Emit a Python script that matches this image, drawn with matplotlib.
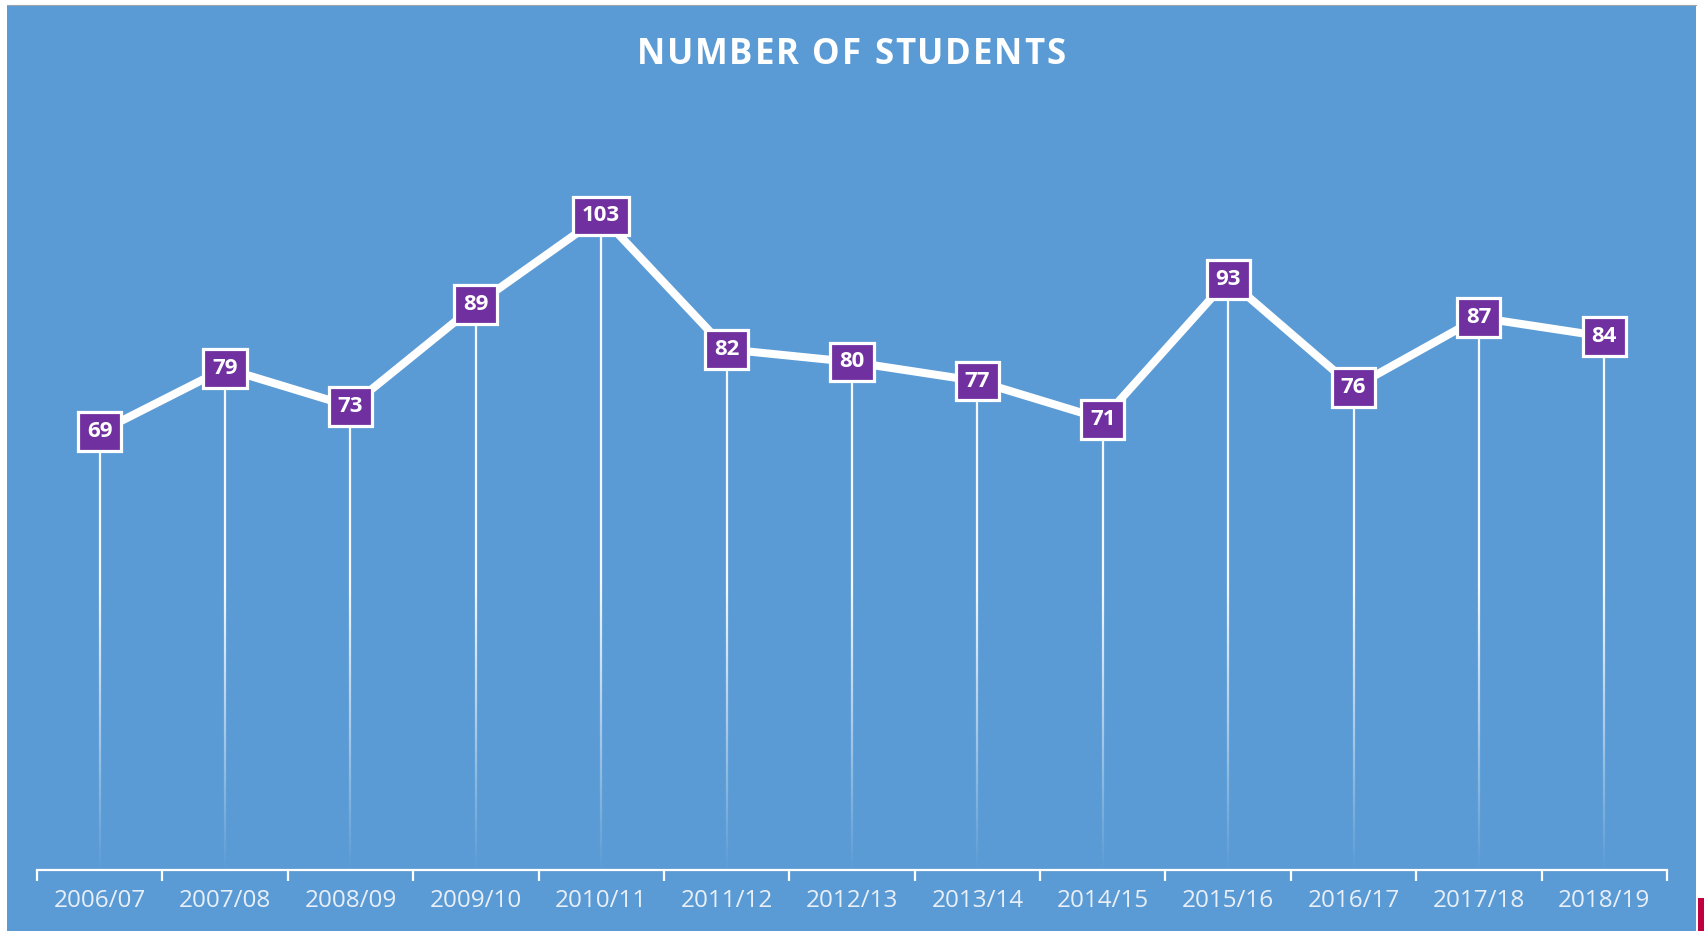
import numpy as np
import matplotlib.pyplot as plt
from matplotlib.patches import Rectangle
from matplotlib.lines import Line2D
from matplotlib.collections import LineCollection

# data
years = ['2006/07', '2007/08', '2008/09', '2009/10', '2010/11', '2011/12', '2012/13',
         '2013/14', '2014/15', '2015/16', '2016/17', '2017/18', '2018/19']
students = [69, 79, 73, 89, 103, 82, 80, 77, 71, 93, 76, 87, 84]
title = 'NUMBER OF STUDENTS'

BLUE = '#5B9BD5'
PURPLE = '#7030A0'
W, H = 1704, 931

plt.rcParams['font.family'] = ['Open Sans', 'DejaVu Sans']

#===============================================================================#

def spaced_text(fig, s, xc, y, width_px, **kw):
    """Draws text char by char so the letter spacing can be widened to a target width"""
    r = fig.canvas.get_renderer()
    widths = []
    for ch in s:
        if ch == ' ':
            widths.append(kw.get('fontsize', 12) * 100 / 72 * 0.28)
            continue
        t = fig.text(0, 0, ch, **kw)
        widths.append(t.get_window_extent(r).width)
        t.remove()
    gap = (width_px - sum(widths)) / (len(s) - 1)
    x = xc * W - width_px / 2
    for ch, w in zip(s, widths):
        if ch != ' ':
            fig.text(x / W, y, ch, ha='left', va='center', **kw)
        x += w + gap

#===============================================================================#

fig = plt.figure(figsize=(W / 100, H / 100), dpi=100)
fig.patch.set_facecolor('white')
fig.add_artist(Rectangle((7 / W, 0), (1696 - 7) / W, (H - 5) / H, transform=fig.transFigure,
                         facecolor=BLUE, edgecolor='none', zorder=0))
fig.add_artist(Line2D([7 / W, 1696 / W], [1 - 5 / H, 1 - 5 / H], transform=fig.transFigure,
                      color='#9aa4ae', lw=0.8))
fig.add_artist(Rectangle((1698 / W, 0), 6 / W, 33 / H, transform=fig.transFigure,
                         facecolor='#c0003c', edgecolor='none'))

ax = fig.add_axes([37 / W, 61 / H, 1630 / W, 762 / H])
ax.set_facecolor('none')
x = np.arange(len(years))
ax.set_xlim(-0.5, len(years) - 0.5)
ax.set_ylim(0, 120)

# drop lines fading out towards the axis
segs, cols = [], []
for xi, v in zip(x, students):
    ys = np.linspace(0, v, 120)
    for a, b in zip(ys[:-1], ys[1:]):
        segs.append([(xi, a), (xi, b)])
        alpha = np.clip((a + b) / 2 / 45, 0, 1) * 0.95
        cols.append((1, 1, 1, alpha))
ax.add_collection(LineCollection(segs, colors=cols, linewidths=1.6, capstyle='butt', zorder=2))

ax.plot(x, students, color='white', lw=5.8, solid_joinstyle='round', solid_capstyle='round', zorder=3)

for xi, v in zip(x, students):
    ax.text(xi, v, str(v), ha='center', va='center', color='white', fontsize=16,
            fontweight='bold', zorder=5,
            bbox=dict(boxstyle='square,pad=0.4', fc=PURPLE, ec='white', lw=2.3))

for s in ['left', 'right', 'top']:
    ax.spines[s].set_visible(False)
ax.spines['bottom'].set_color('white')
ax.spines['bottom'].set_linewidth(1.6)
ax.set_yticks([])
ax.set_xticks(x)
ax.set_xticklabels(years, fontsize=17.5, color='#e9eff7')
ax.set_xticks(np.arange(-0.5, len(years), 1), minor=True)
ax.tick_params(axis='x', which='major', length=0, pad=14)
ax.tick_params(axis='x', which='minor', length=8, width=1.6, color='white', direction='out')

spaced_text(fig, title, 851 / W, 1 - 55 / H, 429, fontsize=25, fontweight='bold', color='white')

fig.savefig('out.png', dpi=100, facecolor=fig.get_facecolor())
